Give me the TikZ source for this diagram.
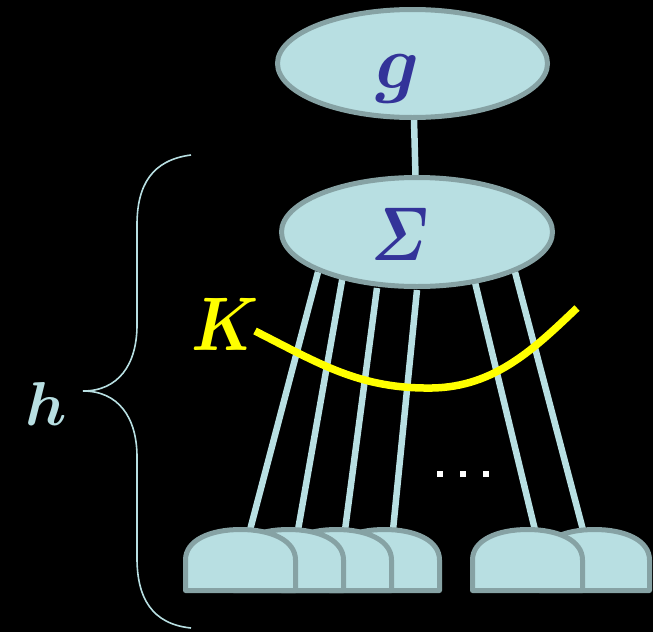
\documentclass[tikz,border=0pt]{standalone}
\usepackage{fix-cm}
\usepackage{graphicx}
\usepackage{amsmath,bm}
\usetikzlibrary{shapes.geometric}
\pgfdeclarelayer{bg}
\pgfdeclarelayer{back}
\pgfsetlayers{back,bg,main}
\definecolor{cfill}{HTML}{B8DFE2}
\definecolor{cedge}{HTML}{86A2A4}
\definecolor{ctext}{HTML}{333399}
\definecolor{cyel}{HTML}{FFFF00}
\tikzset{
  blob/.style={ellipse, fill=cfill, draw=cedge, line width=5pt, inner sep=0pt},
  wire/.style={cfill, line width=6.5pt},
  domebox/.style={fill=cfill, draw=cedge, line width=5pt, line join=round},
  bigletter/.style={inner sep=0pt, anchor=base, font=\fontsize{76}{80}\selectfont},
  bracestyle/.style={cfill, line width=1.6pt},
  dotbox/.style={fill=white, minimum size=6pt, inner sep=0pt}
}
\newcommand{\mydome}[2]{% #1 left x, #2 name of top coordinate
  \path[domebox] (#1,590.5) -- (#1,560) .. controls (#1,540) and (#1+25,529.5) .. (#1+55,529.5)
     .. controls (#1+85,529.5) and (#1+110,540) .. (#1+110,560) -- (#1+110,590.5) -- cycle;
}
\begin{document}
\begin{tikzpicture}[x=1pt,y=-1pt]
\begin{pgfonlayer}{back}
\fill[black] (0,0) rectangle (653,632);
\end{pgfonlayer}
\useasboundingbox (0,0) rectangle (653,632);

% ellipses
\node[blob, minimum width=270pt, minimum height=108pt] (G) at (412.5,63.5) {};
\node[blob, minimum width=271pt, minimum height=109pt] (S) at (417,232) {};
\node[bigletter, text=ctext] (gtxt) at (398,88) {$\bm{g}$};
\node[bigletter, text=ctext] (stxt) at (400,260) {\scalebox{0.8}[1]{$\bm{\varSigma}$}};

\begin{pgfonlayer}{bg}
\draw[wire] (G) -- (S);
% start points inside Sigma ellipse, end points at dome tops
\coordinate (s1) at (318,272); \coordinate (d1) at (250,530);
\coordinate (s2) at (343,275); \coordinate (d2) at (298,530);
\coordinate (s3) at (377,288); \coordinate (d3) at (345,530);
\coordinate (s4) at (417,290); \coordinate (d4) at (393,530);
\coordinate (s5) at (473,274); \coordinate (d5) at (535,530);
\coordinate (s6) at (515,272); \coordinate (d6) at (583,530);
\foreach \i in {1,...,6} { \draw[wire] (s\i) -- (d\i); }
% domes (drawn right to left so left ones lie on top)
\mydome{539.5}{}
\mydome{472.5}{}
\mydome{329.5}{}
\mydome{281.5}{}
\mydome{233.5}{}
\mydome{185.5}{}
\end{pgfonlayer}

% dots
\node[dotbox] (dot1) at (440,474) {};
\node[dotbox] (dot2) at (463,474) {};
\node[dotbox] (dot3) at (486,474) {};

% yellow cut K
\node[bigletter, text=cyel] (K) at (225,350) {\scalebox{0.85}[1]{$\bm{K}$}};
\coordinate (k0) at (255,331);
\coordinate (k1) at (432,388);
\coordinate (k2) at (577,308);
\draw[cyel, line width=7.5pt] (k0) .. controls (320,364) and (360,389) .. (k1)
   .. controls (495,387) and (535,348) .. (k2);

% brace and h
\coordinate (b0) at (191,155);
\coordinate (bt) at (83,391);
\coordinate (b1) at (191,628);
\draw[bracestyle] (b0) .. controls (152,160) and (137,185) .. (137,225) -- (137,325)
   .. controls (137,365) and (118,391) .. (bt)
   .. controls (118,391) and (137,417) .. (137,457) -- (137,558)
   .. controls (137,598) and (152,624) .. (b1);
\node[inner sep=0pt, anchor=base, font=\fontsize{62}{66}\selectfont, text=cfill] (h) at (46,425) {$\bm{h}$};
\end{tikzpicture}
\end{document}
